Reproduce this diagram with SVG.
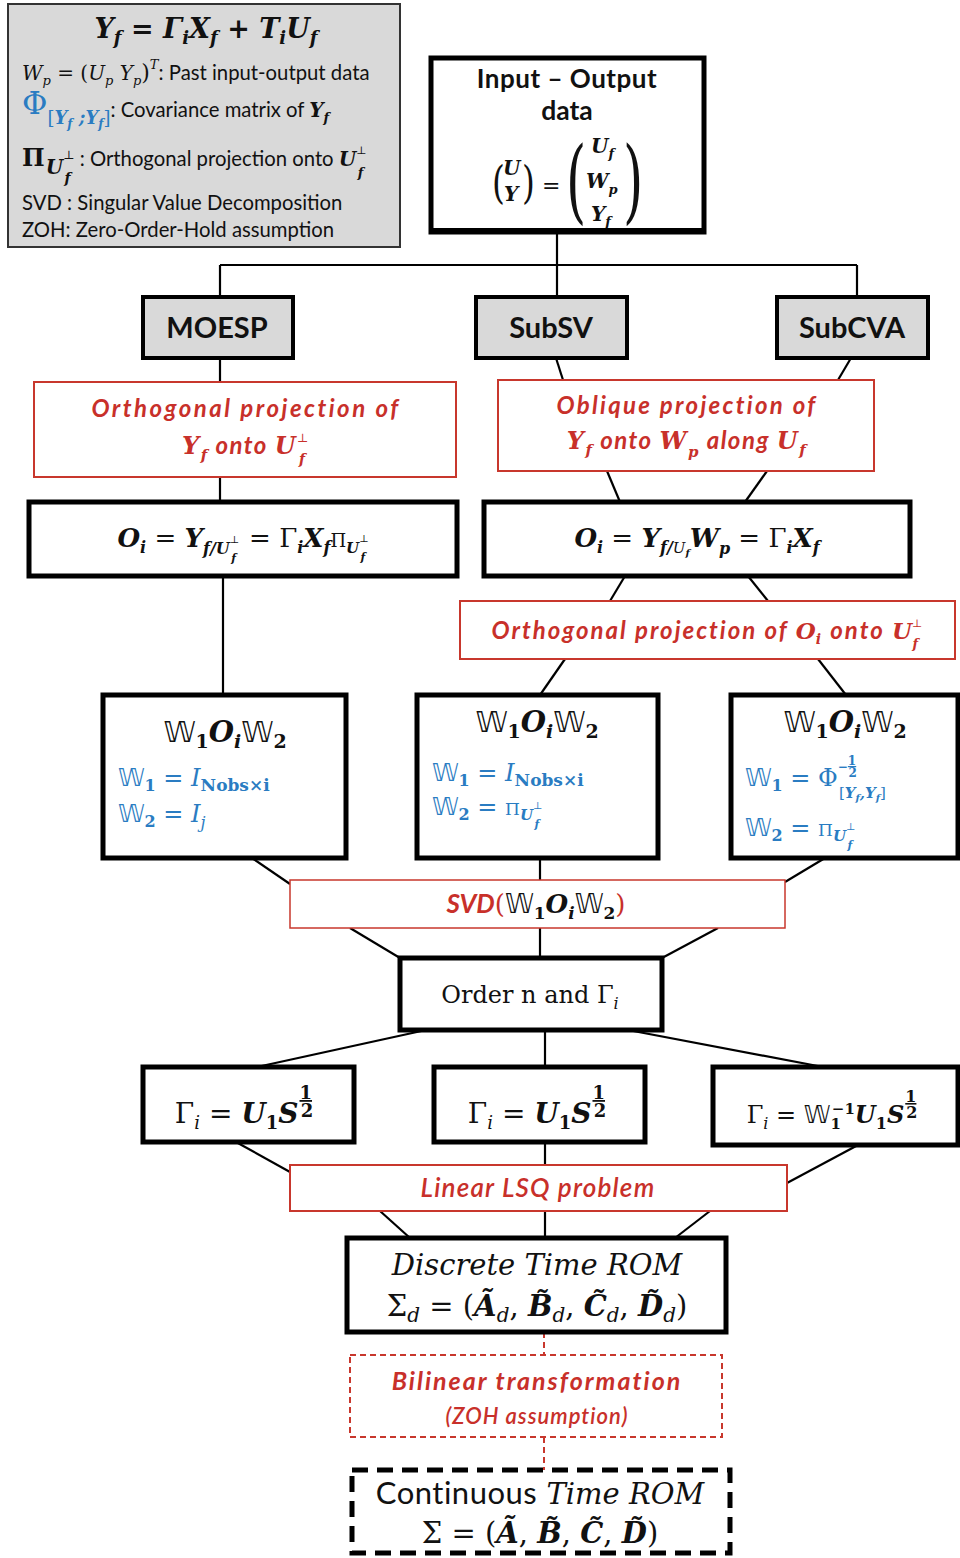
<svg xmlns="http://www.w3.org/2000/svg" width="960" height="1558" viewBox="0 0 960 1558">
<style>
  .box{fill:#fff;stroke:#000;stroke-width:5}
  .gbox{fill:#d9d9d9;stroke:#000;stroke-width:4}
  .legend{fill:#d9d9d9;stroke:#333;stroke-width:2}
  .rbox{fill:#fff;stroke:#c8372d;stroke-width:2}
  .rdash{fill:#fff;stroke:#c8372d;stroke-width:2;stroke-dasharray:6 4}
  .kdash{fill:#fff;stroke:#000;stroke-width:5;stroke-dasharray:16 9}
  .conn path{fill:none;stroke:#000;stroke-width:2.2}
  .conn path.rd{stroke:#c8372d;stroke-width:2;stroke-dasharray:6 4}
  .sans{font-family:Lato,"Open Sans","Liberation Sans",sans-serif;font-style:normal;font-weight:normal}
  .sb{font-family:Lato,"Open Sans","Liberation Sans",sans-serif;font-weight:bold}
  .sbi{font-family:Lato,"Open Sans","Liberation Sans",sans-serif;font-weight:bold;font-style:italic}
  .mb{font-family:"DejaVu Serif","Liberation Serif",serif;font-weight:bold;font-style:italic}
  .mi{font-family:"DejaVu Serif","Liberation Serif",serif;font-style:italic;font-weight:normal}
  .mr{font-family:"DejaVu Serif","Liberation Serif",serif;font-style:normal;font-weight:normal}
  .mrb{font-family:"DejaVu Serif","Liberation Serif",serif;font-style:normal;font-weight:bold}
  .ds{font-family:"DejaVu Sans","DejaVu Serif",sans-serif;font-style:normal;font-weight:normal}
  .red{fill:#c8302a}
  .blue{fill:#2a7cc2}
  .blk{fill:#111}
</style>

<!-- connectors -->
<g id="connectors" class="conn">
  <path d="M557,232 V265 M220,265 H857 M220,265 V297 M557,265 V297 M857,265 V297"/>
  <path d="M220,358 V382"/>
  <path d="M556,358 L563,380"/>
  <path d="M851,358 L838,380"/>
  <path d="M220,477 V502"/>
  <path d="M607,471 L620,502"/>
  <path d="M767,471 L745,502"/>
  <path d="M223,576 V695"/>
  <path d="M625,576 L610,601"/>
  <path d="M748,576 L768,601"/>
  <path d="M565,659 L540,695"/>
  <path d="M818,659 L846,695"/>
  <path d="M252,858 L290,884"/>
  <path d="M540,858 V880"/>
  <path d="M825,858 L785,882"/>
  <path d="M350,928 L400,958"/>
  <path d="M540,928 V958"/>
  <path d="M718,928 L662,958"/>
  <path d="M426,1030 L257,1067"/>
  <path d="M545,1030 V1067"/>
  <path d="M628,1030 L823,1067"/>
  <path d="M236,1142 L290,1172"/>
  <path d="M545,1142 V1165"/>
  <path d="M858,1145 L787,1183"/>
  <path d="M380,1211 L410,1238"/>
  <path d="M545,1211 V1238"/>
  <path d="M710,1211 L675,1238"/>
  <path class="rd" d="M544,1332 V1355"/>
  <path class="rd" d="M544,1437 V1470"/>
</g>

<!-- legend -->
<g id="legend">
  <rect class="legend" x="8" y="4" width="392" height="243"/>
  <text class="mb blk" x="206" y="38" text-anchor="middle" font-size="27">Y<tspan font-size="18" dy="6">f</tspan><tspan class="mrb" dy="-6"> = </tspan><tspan>Γ</tspan><tspan font-size="18" dy="6">i</tspan><tspan dy="-6">X</tspan><tspan font-size="18" dy="6">f</tspan><tspan class="mrb" dy="-6"> + </tspan><tspan>T</tspan><tspan font-size="18" dy="6">i</tspan><tspan dy="-6">U</tspan><tspan font-size="18" dy="6">f</tspan></text>
  <text class="mi blk" x="22" y="80" font-size="20">W<tspan font-size="13" dy="5">p</tspan><tspan class="mr" dy="-5"> = (</tspan><tspan>U</tspan><tspan font-size="13" dy="5">p</tspan><tspan dy="-5">   Y</tspan><tspan font-size="13" dy="5">p</tspan><tspan class="mr" font-size="22" dy="-5">)</tspan><tspan font-size="13" dy="-11">T</tspan><tspan class="sans" font-size="20.3" dy="11">: Past input-output data</tspan></text>
  <text x="22" y="117"><tspan class="mr blue" font-size="31" dy="-3">Φ</tspan><tspan class="mr blue" font-size="18" dy="10">[</tspan><tspan class="mb blue" font-size="18">Y</tspan><tspan class="mb blue" font-size="12" dy="4">f</tspan><tspan class="mb blue" font-size="18" dy="-4"> ;Y</tspan><tspan class="mb blue" font-size="12" dy="4">f</tspan><tspan class="mr blue" font-size="18" dy="-4">]</tspan><tspan class="sans blk" font-size="20.3" dy="-7">:  Covariance matrix of </tspan><tspan class="mb blk" font-size="20">Y</tspan><tspan class="mb blk" font-size="13" dy="5">f</tspan></text>
  <text x="22" y="166"><tspan class="mrb blk" font-size="24">Π</tspan><tspan class="mb blk" font-size="20" dx="1" dy="8">U</tspan><tspan class="mr blk" font-size="12" dy="-15">⊥</tspan><tspan class="mb blk" font-size="14" dx="-10" dy="24">f</tspan><tspan class="sans blk" font-size="20.3" dx="4" dy="-17"> : Orthogonal projection onto </tspan><tspan class="mb blk" font-size="20">U</tspan><tspan class="mr blk" font-size="11" dy="-12">⊥</tspan><tspan class="mb blk" font-size="13" dx="-9" dy="23">f</tspan></text>
  <text class="sans blk" x="22" y="210" font-size="20.3">SVD :  Singular Value Decomposition</text>
  <text class="sans blk" x="22" y="237" font-size="20.3">ZOH: Zero-Order-Hold assumption</text>
</g>

<!-- input / output data -->
<g id="node-io">
  <rect class="box" x="431" y="58" width="273" height="174"/>
  <text class="sb blk" x="567" y="88" text-anchor="middle" font-size="26" letter-spacing="0.5">Input – Output</text>
  <text class="sb blk" x="567" y="120" text-anchor="middle" font-size="26.5">data</text>
  <text class="mr blk" x="492" y="198" font-size="44" transform="translate(492,198) scale(0.75,1) translate(-492,-198)">(</text>
  <text class="mb blk" x="503" y="175" font-size="20">U</text>
  <text class="mb blk" x="504" y="201" font-size="20">Y</text>
  <text class="mr blk" x="522" y="198" font-size="44" transform="translate(522,198) scale(0.75,1) translate(-522,-198)">)</text>
  <text class="mr blk" x="542" y="193" font-size="22">=</text>
  <text class="mr blk" x="566" y="212" font-size="52" transform="translate(566,212) scale(1,1.75) translate(-566,-212)">(</text>
  <text class="mb blk" x="591" y="153" font-size="20">U<tspan font-size="13" dy="5">f</tspan></text>
  <text class="mb blk" x="586" y="188" font-size="20">W<tspan font-size="13" dy="6">p</tspan></text>
  <text class="mb blk" x="591" y="221" font-size="20">Y<tspan font-size="13" dy="5">f</tspan></text>
  <text class="mr blk" x="623" y="212" font-size="52" transform="translate(623,212) scale(1,1.75) translate(-623,-212)">)</text>
  <rect x="431" y="228" width="273" height="6" fill="#000"/>
</g>

<!-- method heads -->
<g id="node-moesp">
  <rect class="gbox" x="143" y="297" width="150" height="61"/>
  <text class="sb blk" x="217" y="338" text-anchor="middle" font-size="29">MOESP</text>
</g>
<g id="node-subsv">
  <rect class="gbox" x="476" y="297" width="151" height="61"/>
  <text class="sb blk" x="551" y="338" text-anchor="middle" font-size="29">SubSV</text>
</g>
<g id="node-subcva">
  <rect class="gbox" x="777" y="297" width="151" height="61"/>
  <text class="sb blk" x="852" y="338" text-anchor="middle" font-size="29">SubCVA</text>
</g>

<!-- projections -->
<g id="node-orth-proj">
  <rect class="rbox" x="34" y="382" width="422" height="95"/>
  <text class="sbi red" x="246" y="417" text-anchor="middle" font-size="24" letter-spacing="2.5">Orthogonal projection of</text>
  <text class="sbi red" x="246" y="454" text-anchor="middle" font-size="24" letter-spacing="1.5"><tspan class="mb" font-size="24">Y</tspan><tspan class="mb" font-size="15" dy="6">f</tspan><tspan dy="-6"> onto </tspan><tspan class="mb" font-size="24">U</tspan><tspan class="mr" font-size="12" dy="-12">⊥</tspan><tspan class="mb" font-size="14" dx="-11" dy="22">f</tspan><tspan dy="-10"> </tspan></text>
</g>
<g id="node-obl-proj">
  <rect class="rbox" x="498" y="380" width="376" height="91"/>
  <text class="sbi red" x="687" y="414" text-anchor="middle" font-size="24" letter-spacing="2.3">Oblique projection of</text>
  <text class="sbi red" x="687" y="449" text-anchor="middle" font-size="24" letter-spacing="1.5"><tspan class="mb" font-size="24">Y</tspan><tspan class="mb" font-size="15" dy="6">f</tspan><tspan dy="-6"> onto </tspan><tspan class="mb" font-size="24">W</tspan><tspan class="mb" font-size="15" dy="8">p</tspan><tspan dy="-8"> along </tspan><tspan class="mb" font-size="24">U</tspan><tspan class="mb" font-size="15" dy="6">f</tspan></text>
</g>

<!-- observability matrices -->
<g id="node-oi-left">
  <rect class="box" x="29" y="502" width="428" height="74"/>
  <text class="mb blk" x="243" y="547" text-anchor="middle" font-size="26">O<tspan font-size="16" dy="6">i</tspan><tspan class="mr" dy="-6"> = </tspan><tspan>Y</tspan><tspan font-size="16" dy="7">f/U</tspan><tspan class="mr" font-size="10" dy="-11">⊥</tspan><tspan font-size="11" dx="-8" dy="19">f</tspan><tspan class="mr" dx="5" dy="-15"> = Γ</tspan><tspan font-size="16" dy="6">i</tspan><tspan dy="-6">X</tspan><tspan font-size="16" dy="6">f</tspan><tspan class="mr" font-size="18" dy="-6">Π</tspan><tspan font-size="15" dy="6">U</tspan><tspan class="mr" font-size="10" dy="-11">⊥</tspan><tspan font-size="11" dx="-8" dy="19">f</tspan></text>
</g>
<g id="node-oi-right">
  <rect class="box" x="484" y="502" width="426" height="74"/>
  <text class="mb blk" x="697" y="547" text-anchor="middle" font-size="26">O<tspan font-size="16" dy="6">i</tspan><tspan class="mr" dy="-6"> = </tspan><tspan>Y</tspan><tspan font-size="16" dy="6">f/</tspan><tspan class="mi" font-size="15">U</tspan><tspan font-size="10" dy="3">f</tspan><tspan dy="-9">W</tspan><tspan font-size="16" dy="7">p</tspan><tspan class="mr" dy="-7"> = Γ</tspan><tspan font-size="16" dy="6">i</tspan><tspan dy="-6">X</tspan><tspan font-size="16" dy="6">f</tspan></text>
</g>
<g id="node-orth-oi">
  <rect class="rbox" x="460" y="601" width="495" height="58"/>
  <text class="sbi red" x="707" y="639" text-anchor="middle" font-size="24" letter-spacing="2"><tspan>Orthogonal projection of </tspan><tspan class="mb" font-size="23" letter-spacing="0">O</tspan><tspan class="mb" font-size="14" dy="5">i</tspan><tspan dy="-5"> onto </tspan><tspan class="mb" font-size="23" letter-spacing="0">U</tspan><tspan class="mr" font-size="11" dy="-12" letter-spacing="0">⊥</tspan><tspan class="mb" font-size="13" dx="-10" dy="21">f</tspan></text>
</g>

<!-- weighting -->
<g id="node-w-moesp">
  <rect class="box" x="103" y="695" width="243" height="163"/>
  <text class="blk" x="225" y="742" text-anchor="middle" font-size="29"><tspan class="ds">𝕎</tspan><tspan class="mrb" font-size="19" dy="6">1</tspan><tspan class="mb" dy="-6">O</tspan><tspan class="mb" font-size="19" dy="6">i</tspan><tspan class="ds" dy="-6">𝕎</tspan><tspan class="mrb" font-size="19" dy="6">2</tspan></text>
  <text class="blue" x="118" y="786" font-size="24"><tspan class="ds">𝕎</tspan><tspan class="mrb" font-size="16" dy="5">1</tspan><tspan class="mr" dy="-5"> = </tspan><tspan class="mi">I</tspan><tspan class="mrb" font-size="17" dy="5">Nobs×i</tspan></text>
  <text class="blue" x="118" y="822" font-size="24"><tspan class="ds">𝕎</tspan><tspan class="mrb" font-size="16" dy="5">2</tspan><tspan class="mr" dy="-5"> = </tspan><tspan class="mi">I</tspan><tspan class="mi" font-size="16" dy="6">j</tspan></text>
</g>
<g id="node-w-subsv">
  <rect class="box" x="417" y="695" width="241" height="163"/>
  <text class="blk" x="537" y="732" text-anchor="middle" font-size="29"><tspan class="ds">𝕎</tspan><tspan class="mrb" font-size="19" dy="6">1</tspan><tspan class="mb" dy="-6">O</tspan><tspan class="mb" font-size="19" dy="6">i</tspan><tspan class="ds" dy="-6">𝕎</tspan><tspan class="mrb" font-size="19" dy="6">2</tspan></text>
  <text class="blue" x="432" y="781" font-size="24"><tspan class="ds">𝕎</tspan><tspan class="mrb" font-size="16" dy="5">1</tspan><tspan class="mr" dy="-5"> = </tspan><tspan class="mi">I</tspan><tspan class="mrb" font-size="17" dy="5">Nobs×i</tspan></text>
  <text class="blue" x="432" y="815" font-size="24"><tspan class="ds">𝕎</tspan><tspan class="mrb" font-size="16" dy="5">2</tspan><tspan class="mr" dy="-5"> = </tspan><tspan class="mr" font-size="17">Π</tspan><tspan class="mb" font-size="15" dy="5">U</tspan><tspan class="mr" font-size="10" dy="-11">⊥</tspan><tspan class="mb" font-size="11" dx="-8" dy="19">f</tspan></text>
</g>
<g id="node-w-subcva">
  <rect class="box" x="731" y="695" width="227" height="163"/>
  <text class="blk" x="845" y="732" text-anchor="middle" font-size="29"><tspan class="ds">𝕎</tspan><tspan class="mrb" font-size="19" dy="6">1</tspan><tspan class="mb" dy="-6">O</tspan><tspan class="mb" font-size="19" dy="6">i</tspan><tspan class="ds" dy="-6">𝕎</tspan><tspan class="mrb" font-size="19" dy="6">2</tspan></text>
  <text class="blue" x="745" y="786" font-size="24"><tspan class="ds">𝕎</tspan><tspan class="mrb" font-size="16" dy="5">1</tspan><tspan class="mr" dy="-5"> = Φ</tspan><tspan class="mrb" font-size="12" dy="-15">−</tspan><tspan class="mrb" font-size="12" dy="-6" text-decoration="underline">1</tspan><tspan class="mrb" font-size="12" dx="-7.6" dy="12">2</tspan><tspan class="mr" font-size="15" dx="-18" dy="21">[</tspan><tspan class="mb" font-size="15">Y</tspan><tspan class="mb" font-size="10" dy="3">f</tspan><tspan class="mb" font-size="15" dy="-3">,Y</tspan><tspan class="mb" font-size="10" dy="3">f</tspan><tspan class="mr" font-size="15" dy="-3">]</tspan></text>
  <text class="blue" x="745" y="836" font-size="24"><tspan class="ds">𝕎</tspan><tspan class="mrb" font-size="16" dy="5">2</tspan><tspan class="mr" dy="-5"> = </tspan><tspan class="mr" font-size="17">Π</tspan><tspan class="mb" font-size="15" dy="5">U</tspan><tspan class="mr" font-size="10" dy="-11">⊥</tspan><tspan class="mb" font-size="11" dx="-8" dy="19">f</tspan></text>
</g>

<!-- SVD -->
<g id="node-svd">
  <rect class="rbox" x="290" y="880" width="495" height="48" style="stroke-width:1.5"/>
  <text x="536" y="913" text-anchor="middle" font-size="26"><tspan class="sbi red">SVD</tspan><tspan class="mr red">(</tspan><tspan class="ds blk">𝕎</tspan><tspan class="mrb blk" font-size="17" dy="6">1</tspan><tspan class="mb blk" dy="-6">O</tspan><tspan class="mb blk" font-size="17" dy="6">i</tspan><tspan class="ds blk" dy="-6">𝕎</tspan><tspan class="mrb blk" font-size="17" dy="6">2</tspan><tspan class="mr red" dy="-6">)</tspan></text>
</g>

<!-- order -->
<g id="node-order">
  <rect class="box" x="400" y="958" width="262" height="72"/>
  <text class="mr blk" x="530" y="1003" text-anchor="middle" font-size="24">Order n and Γ<tspan class="mi" font-size="16" dy="6">i</tspan></text>
</g>

<!-- extended observability -->
<g id="node-gamma-moesp">
  <rect class="box" x="143" y="1067" width="211" height="75"/>
  <text class="blk" x="244" y="1123" text-anchor="middle" font-size="28"><tspan class="mr">Γ</tspan><tspan class="mi" font-size="18" dy="6">i</tspan><tspan class="mr" dy="-6"> = </tspan><tspan class="mb">U</tspan><tspan class="mrb" font-size="18" dy="6">1</tspan><tspan class="mb" dy="-6">S</tspan><tspan class="mrb" font-size="18" dx="1" dy="-24" text-decoration="underline">1</tspan><tspan class="mrb" font-size="18" dx="-11.4" dy="18">2</tspan></text>
</g>
<g id="node-gamma-subsv">
  <rect class="box" x="434" y="1067" width="211" height="75"/>
  <text class="blk" x="537" y="1123" text-anchor="middle" font-size="28"><tspan class="mr">Γ</tspan><tspan class="mi" font-size="18" dy="6">i</tspan><tspan class="mr" dy="-6"> = </tspan><tspan class="mb">U</tspan><tspan class="mrb" font-size="18" dy="6">1</tspan><tspan class="mb" dy="-6">S</tspan><tspan class="mrb" font-size="18" dx="1" dy="-24" text-decoration="underline">1</tspan><tspan class="mrb" font-size="18" dx="-11.4" dy="18">2</tspan></text>
</g>
<g id="node-gamma-subcva">
  <rect class="box" x="713" y="1067" width="245" height="78"/>
  <text class="blk" x="832" y="1123" text-anchor="middle" font-size="24"><tspan class="mr">Γ</tspan><tspan class="mi" font-size="16" dy="6">i</tspan><tspan class="mr" dy="-6"> = </tspan><tspan class="ds">𝕎</tspan><tspan class="mrb" font-size="15" dy="6">1</tspan><tspan class="mrb" font-size="15" dx="-9" dy="-15">−1</tspan><tspan class="mb" dy="9">U</tspan><tspan class="mrb" font-size="16" dy="6">1</tspan><tspan class="mb" dy="-6">S</tspan><tspan class="mrb" font-size="16" dx="1" dy="-21" text-decoration="underline">1</tspan><tspan class="mrb" font-size="16" dx="-10.2" dy="16">2</tspan></text>
</g>

<!-- least squares -->
<g id="node-lsq">
  <rect class="rbox" x="290" y="1165" width="497" height="46"/>
  <text class="sans red" x="538" y="1197" text-anchor="middle" font-size="26" style="font-style:italic;font-weight:600" letter-spacing="1.2">Linear LSQ problem</text>
</g>

<!-- discrete-time model -->
<g id="node-discrete">
  <rect class="box" x="347" y="1238" width="379" height="94"/>
  <text class="mi blk" x="537" y="1275" text-anchor="middle" font-size="29">Discrete Time ROM</text>
  <text class="blk" x="537" y="1316" text-anchor="middle" font-size="29"><tspan class="mr">Σ</tspan><tspan class="mi" font-size="20" dy="6">d</tspan><tspan class="mr" dy="-6"> = (</tspan><tspan class="mb">Ã</tspan><tspan class="mi" font-size="20" dy="6">d</tspan><tspan class="mr" dy="-6">, </tspan><tspan class="mb">B̃</tspan><tspan class="mi" font-size="20" dy="6">d</tspan><tspan class="mr" dy="-6">, </tspan><tspan class="mb">C̃</tspan><tspan class="mi" font-size="20" dy="6">d</tspan><tspan class="mr" dy="-6">, </tspan><tspan class="mb">D̃</tspan><tspan class="mi" font-size="20" dy="6">d</tspan><tspan class="mr" dy="-6">)</tspan></text>
</g>

<!-- bilinear transformation -->
<g id="node-bilinear">
  <rect class="rdash" x="350" y="1355" width="372" height="82"/>
  <text class="sbi red" x="537" y="1390" text-anchor="middle" font-size="25" letter-spacing="2">Bilinear transformation</text>
  <text class="sbi red" x="537" y="1424" text-anchor="middle" font-size="22" letter-spacing="1" style="font-weight:600">(ZOH assumption)</text>
</g>

<!-- continuous-time model -->
<g id="node-continuous">
  <rect class="kdash" x="352" y="1470" width="378" height="83"/>
  <text class="blk" x="540" y="1504" text-anchor="middle" font-size="29"><tspan class="sans" font-size="31" letter-spacing="0.5">Continuous</tspan><tspan class="mi"> Time ROM</tspan></text>
  <text class="blk" x="540" y="1543" text-anchor="middle" font-size="29"><tspan class="mr">Σ = (</tspan><tspan class="mb">Ã</tspan><tspan class="mr">, </tspan><tspan class="mb">B̃</tspan><tspan class="mr">, </tspan><tspan class="mb">C̃</tspan><tspan class="mr">, </tspan><tspan class="mb">D̃</tspan><tspan class="mr">)</tspan></text>
</g>
</svg>
